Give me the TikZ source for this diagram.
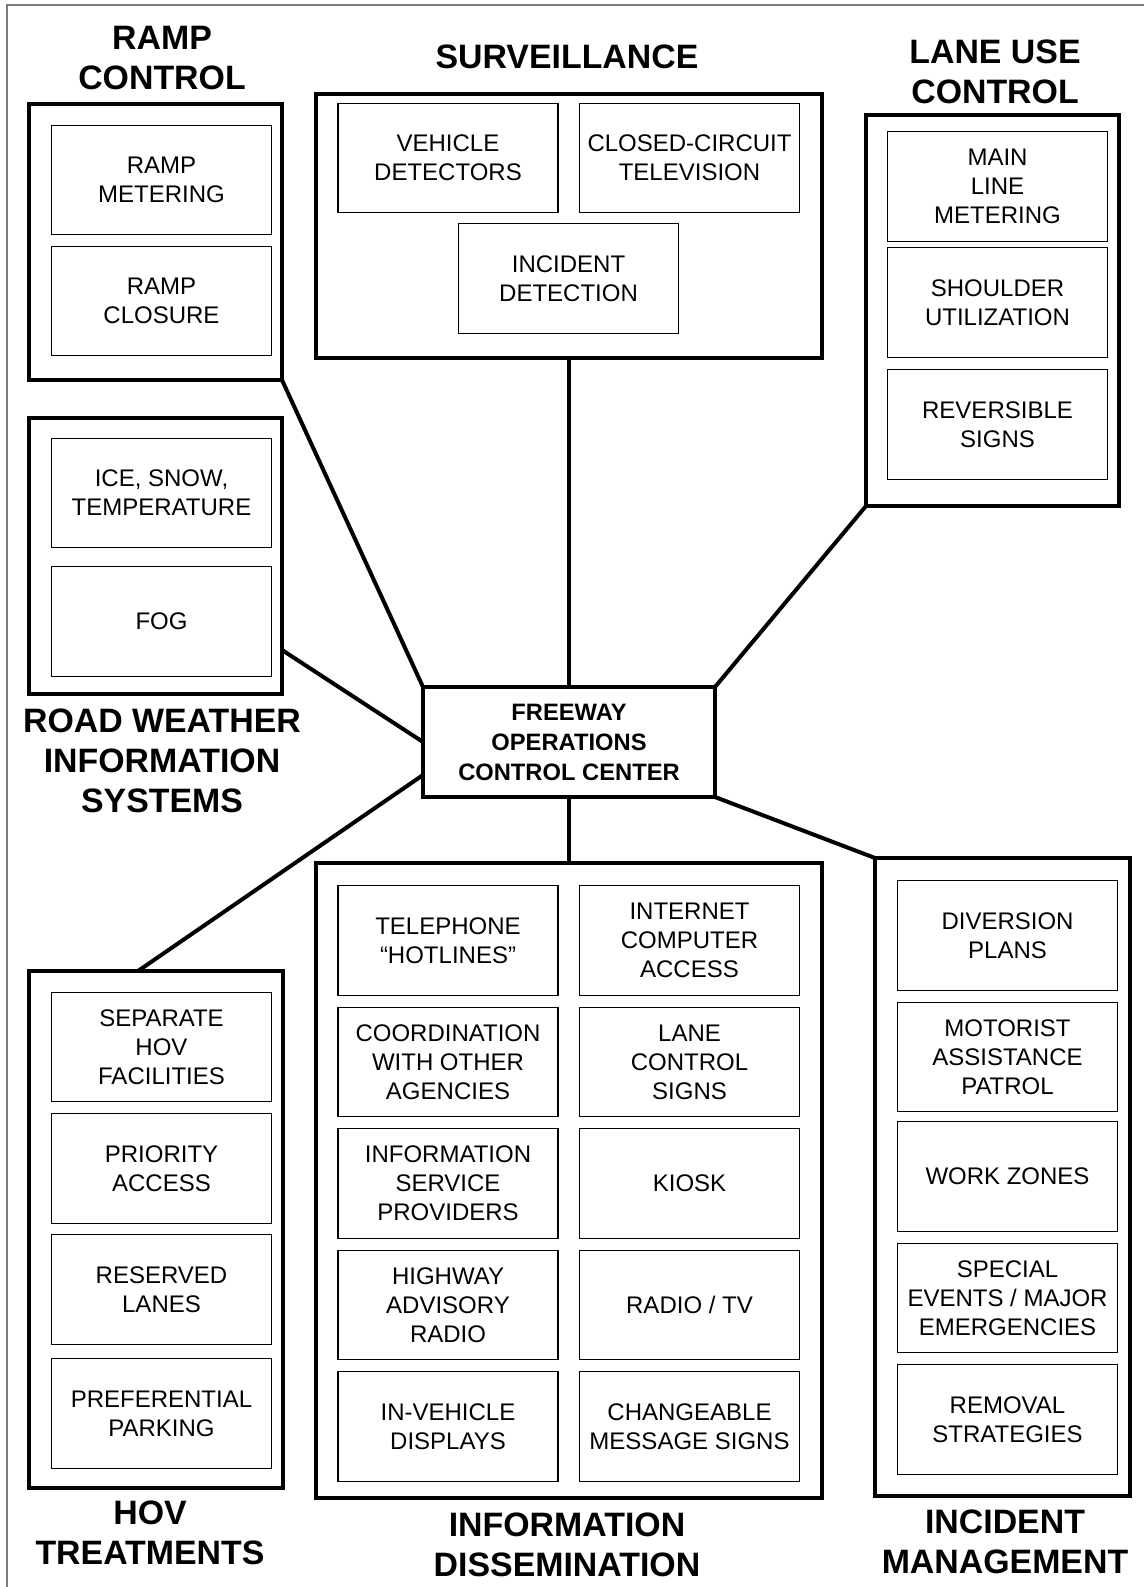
\documentclass[tikz,border=0pt]{standalone}
\usepackage{fontspec}
\setmainfont{Liberation Sans}
\usetikzlibrary{calc}
\definecolor{ink}{HTML}{000000}
\definecolor{rule}{HTML}{7A7A7A}
\tikzset{
  every picture/.style={line join=miter,draw=ink},
  grp/.style 2 args={draw=ink,line width=3pt,minimum width=#1,minimum height=#2,inner sep=0,outer sep=0},
  item/.style={draw=ink,line width=0.9pt,minimum width=165pt,minimum height=82pt,inner sep=0,align=center,font=\fontsize{18}{21.75}\selectfont},
  hubbox/.style={draw=ink,line width=3pt,minimum width=219pt,minimum height=82.5pt,inner sep=0,outer sep=0,align=center,font=\fontsize{17.8}{22.5}\selectfont\bfseries},
  ttl/.style={align=center,inner sep=0,font=\fontsize{25.4}{30}\selectfont\bfseries},
  conn/.style={draw=ink,line width=3pt},
}
\begin{document}
\begin{tikzpicture}[x=0.75pt,y=-0.75pt]
  \useasboundingbox (0,0) rectangle (1143,1587);
  \draw[rule,line width=1.2pt] (1150,5) -- (7,5) -- (7,1590);
  % groups
  \node[grp={189.75pt}{207pt}] (ramp) at (155.5,242) {};
  \node[grp={379.5pt}{198pt}] (surv) at (569,226) {};
  \node[grp={189.75pt}{293.25pt}] (lane) at (992.5,310.5) {};
  \node[grp={189.75pt}{207pt}] (rwis) at (155.5,556) {};
  \node[grp={190.5pt}{387.75pt}] (hov) at (156,1229.5) {};
  \node[grp={379.5pt}{476.25pt}] (info) at (569,1180.5) {};
  \node[grp={191.25pt}{478.5pt}] (inc) at (1002.5,1177) {};
  \node[hubbox] (hub) at (569,742) {FREEWAY\\OPERATIONS\\CONTROL CENTER};
  % titles
  \node[ttl] (tramp) at (162,58.5) {RAMP\\CONTROL};
  \node[ttl] (tsurv) at (567,57) {SURVEILLANCE};
  \node[ttl] (tlane) at (995,71.5) {LANE USE\\CONTROL};
  \node[ttl] (trwis) at (162,761) {ROAD WEATHER\\INFORMATION\\SYSTEMS};
  \node[ttl] (thov) at (150,1533) {HOV\\TREATMENTS};
  \node[ttl] (tinfo) at (567,1545) {INFORMATION\\DISSEMINATION};
  \node[ttl] (tinc) at (1005,1541.5) {INCIDENT\\MANAGEMENT};
  % items
  \foreach \n/\x/\y/\t in {rm1/161.5/180/{RAMP\\METERING},rm2/161.5/301/{RAMP\\CLOSURE},
      rw1/161.5/493/{ICE, SNOW,\\TEMPERATURE},rw2/161.5/621.5/{FOG},
      sv1/448/158/{VEHICLE\\DETECTORS},sv2/689.5/158/{CLOSED-CIRCUIT\\TELEVISION},sv3/568.5/278.5/{INCIDENT\\DETECTION},
      lu1/997.5/186.5/{MAIN\\LINE\\METERING},lu2/997.5/302.5/{SHOULDER\\UTILIZATION},lu3/997.5/424.5/{REVERSIBLE\\SIGNS}}
    \node[item] (\n) at (\x,\y) {\t};
  \foreach \n/\y/\t in {hv1/1047/{SEPARATE\\HOV\\FACILITIES},hv2/1168.5/{PRIORITY\\ACCESS},
      hv3/1289.5/{RESERVED\\LANES},hv4/1413.5/{PREFERENTIAL\\PARKING}}
    \node[item] (\n) at (161.5,\y) {\t};
  \foreach \n/\y/\a/\b in {1/940.5/{TELEPHONE\\“HOTLINES”}/{INTERNET\\COMPUTER\\ACCESS},
      2/1062/{COORDINATION\\WITH OTHER\\AGENCIES}/{LANE\\CONTROL\\SIGNS},
      3/1183.5/{INFORMATION\\SERVICE\\PROVIDERS}/{KIOSK},
      4/1305/{HIGHWAY\\ADVISORY\\RADIO}/{RADIO / TV},
      5/1426.5/{IN-VEHICLE\\DISPLAYS}/{CHANGEABLE\\MESSAGE SIGNS}}{
    \node[item] (ia\n) at (448,\y) {\a};
    \node[item] (ib\n) at (689.5,\y) {\b};}
  \foreach \n/\y/\t in {ic1/935.5/{DIVERSION\\PLANS},ic2/1057/{MOTORIST\\ASSISTANCE\\PATROL},
      ic3/1176.5/{WORK ZONES},ic4/1298/{SPECIAL\\EVENTS / MAJOR\\EMERGENCIES},ic5/1419.5/{REMOVAL\\STRATEGIES}}
    \node[item] (\n) at (1007.5,\y) {\t};
  % spokes
  \draw[conn] (ramp.south east) -- (hub.north west);
  \draw[conn] (surv.south) -- (hub.north);
  \draw[conn] (lane.south west) -- (hub.north east);
  \draw[conn] ($(rwis.south east)+(0,-44)$) -- (hub.west);
  \draw[conn] ($(hov.north)+(-18,0)$) -- ($(hub.south west)+(0,-22)$);
  \draw[conn] (hub.south) -- (info.north);
  \draw[conn] (hub.south east) -- (inc.north west);
\end{tikzpicture}
\end{document}
